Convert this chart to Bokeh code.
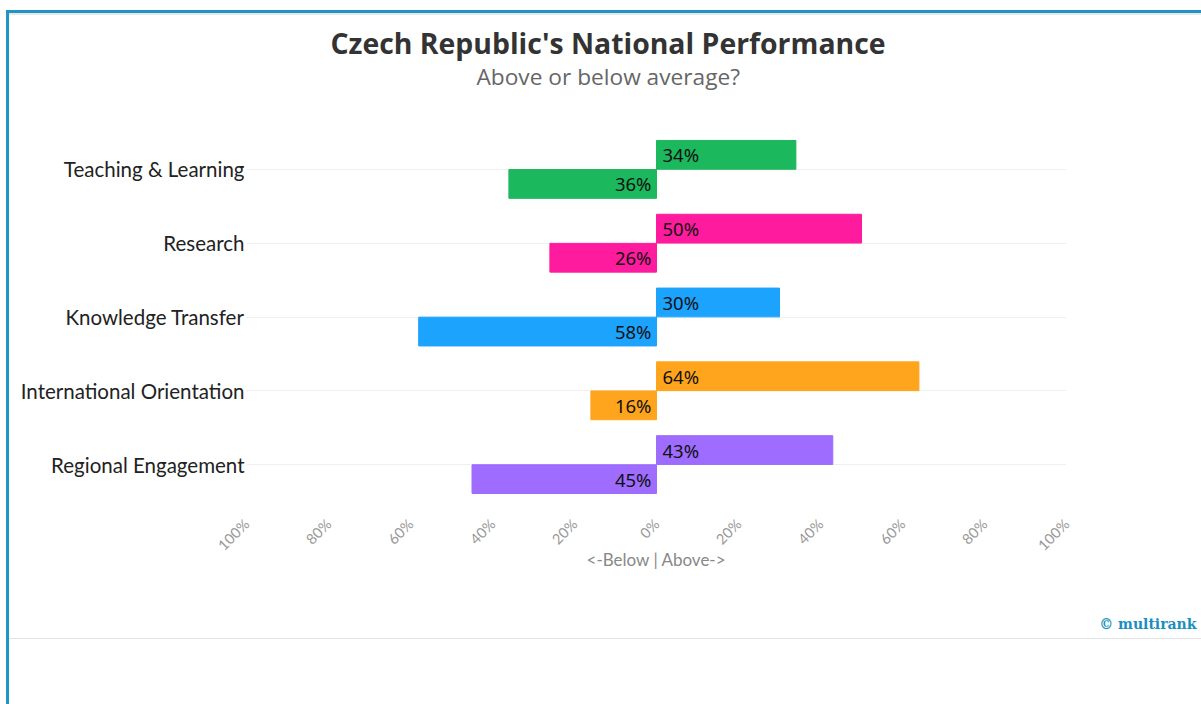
import math
from bokeh.plotting import figure
from bokeh.models import FixedTicker, Title, ColumnDataSource, LabelSet, InlineStyleSheet
from bokeh.core.properties import value
from bokeh.embed import file_html
from bokeh.resources import INLINE

# ---- data ----
categories = ["Teaching & Learning", "Research", "Knowledge Transfer",
              "International Orientation", "Regional Engagement"]
above = [34, 50, 30, 64, 43]
below = [36, 26, 58, 16, 45]
colors = ["#1cb85e", "#fe1b9d", "#1ba3fe", "#ffa41d", "#9e6cff"]
tick_values = [-100, -80, -60, -40, -20, 0, 20, 40, 60, 80, 100]
tick_labels = ["100%", "80%", "60%", "40%", "20%", "0%", "20%", "40%", "60%", "80%", "100%"]
title_text = "Czech Republic's National Performance"
subtitle_text = "Above or below average?"
axis_title = "<-Below | Above->"
credit_text = "© multirank"

n = len(categories)
ypos = [n - i for i in range(n)]
off = 0.197
bh = 0.39

src_above = ColumnDataSource(dict(
    y=[v + off for v in ypos], left=[0] * n, right=above, color=colors,
    label=[f"{v}%" for v in above]))
src_below = ColumnDataSource(dict(
    y=[v - off for v in ypos], left=[-v for v in below], right=[0] * n, color=colors,
    label=[f"{v}%" for v in below]))

W, H = 1201, 704
css = InlineStyleSheet(css="""
:host { position: relative; }
:host::after { content: ""; position: absolute; left: 6px; top: 10px; right: 0px; bottom: 0px;
  border-left: 3px solid #1f96c1; border-top: 3px solid #1f96c1;
  box-shadow: inset 0 2px 0 #e8e8e8; pointer-events: none; }
:host::before { content: ""; position: absolute; left: 9px; right: 0px; top: 638px; height: 1px;
  background: #e4e4e4; pointer-events: none; z-index: 5; }
""")

p = figure(width=W, height=H, output_backend="svg", toolbar_location=None,
           x_range=(-100, 100), y_range=(0.5, n + 0.5),
           min_border_left=246, min_border_right=W - 1066,
           min_border_top=132, min_border_bottom=H - 501)
p.stylesheets = [css]
p.outline_line_color = None
p.background_fill_color = "white"
p.border_fill_color = "white"

p.hbar(y="y", left="left", right="right", height=bh, color="color", source=src_above)
p.hbar(y="y", left="left", right="right", height=bh, color="color", source=src_below)

p.add_layout(LabelSet(x="left", y="y", text="label", source=src_above, x_offset=6,
                      text_align="left", text_baseline="middle", text_font_size="18.5px",
                      text_font=value("Noto Sans"), text_color="#111111"))
p.add_layout(LabelSet(x="right", y="y", text="label", source=src_below, x_offset=-5,
                      text_align="right", text_baseline="middle", text_font_size="18.5px",
                      text_font=value("Noto Sans"), text_color="#111111"))

# axes
p.yaxis.ticker = FixedTicker(ticks=ypos)
p.yaxis.major_label_overrides = {y: c for y, c in zip(ypos, categories)}
p.yaxis.major_label_text_font = "Lato"
p.yaxis.major_label_text_font_size = "20.5px"
p.yaxis.major_label_text_color = "#222222"
p.yaxis.axis_line_color = None
p.yaxis.major_tick_line_color = None
p.yaxis.minor_tick_line_color = None
p.yaxis.major_tick_out = 0
p.yaxis.minor_tick_out = 0
p.yaxis.major_label_standoff = 2

p.xaxis.ticker = FixedTicker(ticks=tick_values)
p.xaxis.major_label_overrides = {v: t for v, t in zip(tick_values, tick_labels)}
p.xaxis.major_label_orientation = math.pi / 4
p.xaxis.major_label_text_font = "Lato"
p.xaxis.major_label_text_font_size = "14.5px"
p.xaxis.major_label_text_color = "#999999"
p.xaxis.major_tick_out = 0
p.xaxis.minor_tick_out = 0
p.xaxis.major_label_standoff = 20
p.xaxis.axis_line_color = None
p.xaxis.major_tick_line_color = None
p.xaxis.minor_tick_line_color = None
p.xaxis.axis_label = axis_title
p.xaxis.axis_label_text_font = "Lato"
p.xaxis.axis_label_text_font_style = "normal"
p.xaxis.axis_label_text_font_size = "17px"
p.xaxis.axis_label_text_color = "#888888"
p.xaxis.axis_label_standoff = -14

p.xgrid.grid_line_color = None
p.ygrid.grid_line_color = "#efefef"

# titles (stack outward from the frame: spacer, subtitle, main title)
p.add_layout(Title(text=" ", text_font_size="1px", standoff=38), "above")
p.add_layout(Title(text=subtitle_text, align="left", offset=476 - 246,
                   text_font="Open Sans", text_font_size="22.7px", text_font_style="normal",
                   text_color="#666666", standoff=0), "above")
p.title.text = title_text
p.title.align = "left"
p.title.offset = 330 - 246
p.title.standoff = -6
p.title.text_font = "Open Sans"
p.title.text_font_size = "28.4px"
p.title.text_font_style = "bold"
p.title.text_color = "#333333"

p.add_layout(Title(text=credit_text, align="right", offset=1066 - 1196,
                   vertical_align="top", standoff=86,
                   text_font="DejaVu Serif", text_font_size="14px", text_font_style="bold",
                   text_color="#1a8fbf"), "below")

open("out.html", "w").write(file_html(p, INLINE))
